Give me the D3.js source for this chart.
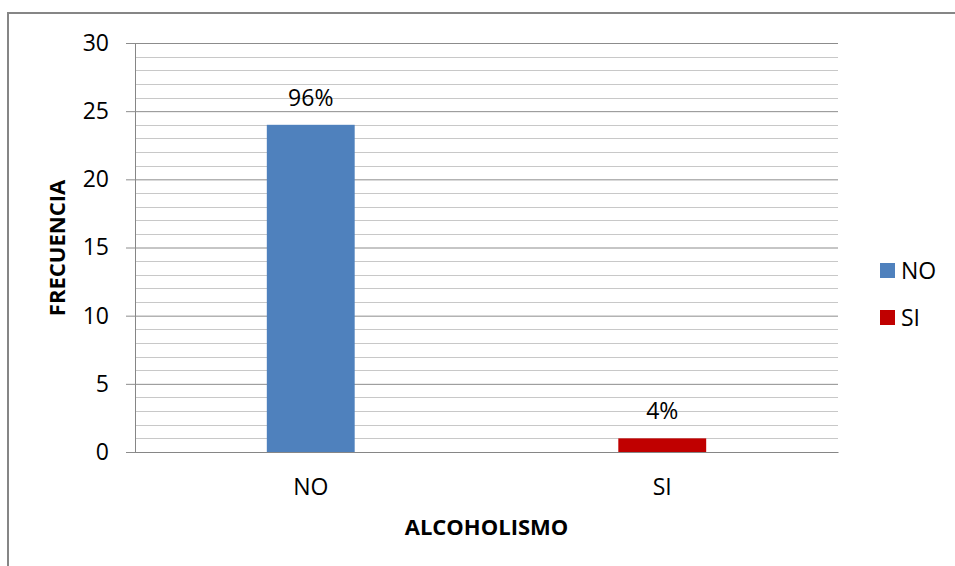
<!DOCTYPE html>
<html><head><meta charset="utf-8">
<script src="https://cdn.jsdelivr.net/npm/d3@7"></script>
<style>html,body{margin:0;padding:0;background:#fff;}svg{display:block;}</style>
</head><body>
<script>
const categories = ["NO", "SI"];
const values = [24, 1];
const labels = ["96%", "4%"];
const colors = ["#4F81BD", "#C00000"];
const yTicks = [0, 5, 10, 15, 20, 25, 30];
const minorTicks = d3.range(0, 31, 1);
const xTitle = "ALCOHOLISMO";
const yTitle = "FRECUENCIA";

(function () {
const W = 955, H = 566;
const svg = d3.select("body").append("svg").attr("width", W).attr("height", H);
const font = "'Open Sans', sans-serif";

// outer border
svg.append("rect").attr("x", 8).attr("y", 13).attr("width", W).attr("height", H)
  .attr("fill", "none").attr("stroke", "#868686").attr("stroke-width", 2);

const pl = 135, pr = 838, pt = 43, pb = 452;
const x = d3.scaleBand().domain(categories).range([pl, pr]).padding(0);
const y = d3.scaleLinear().domain([0, 30]).range([pb, pt]);

// minor gridlines
svg.append("g").selectAll("line").data(minorTicks.filter(d => d % 5 !== 0)).join("line")
  .attr("x1", pl).attr("x2", pr)
  .attr("y1", d => Math.round(y(d)) + 0.5).attr("y2", d => Math.round(y(d)) + 0.5)
  .attr("stroke", "#c8c8c8").attr("stroke-width", 1);

// y axis with major gridlines
const yAxis = d3.axisLeft(y).tickValues(yTicks).tickSize(-(pr - pl)).tickSizeOuter(0).tickPadding(26);
const gy = svg.append("g").attr("transform", `translate(${pl},0)`).call(yAxis);
gy.select(".domain").attr("stroke", "#868686");
gy.selectAll(".tick line").attr("stroke", "#8c8c8c");
gy.selectAll(".tick").append("line").attr("x1", -9).attr("x2", 0).attr("stroke", "#8c8c8c");
gy.selectAll(".tick text").attr("font-family", font).attr("font-size", 23).attr("fill", "#000");

// x axis
const xAxis = d3.axisBottom(x).tickSize(0).tickPadding(27);
const gx = svg.append("g").attr("transform", `translate(0,${pb})`).call(xAxis);
gx.select(".domain").attr("stroke", "#868686");
gx.selectAll(".tick text").attr("font-family", font).attr("font-size", 23).attr("fill", "#000");

// bars
const bw = x.bandwidth() * 0.25;
svg.append("g").selectAll("rect").data(categories).join("rect")
  .attr("x", (d) => x(d) + x.bandwidth() / 2 - bw / 2)
  .attr("width", bw)
  .attr("y", (d, i) => y(values[i]))
  .attr("height", (d, i) => pb - y(values[i]))
  .attr("fill", (d, i) => colors[i]);

// data labels
svg.append("g").selectAll("text").data(categories).join("text")
  .attr("x", d => x(d) + x.bandwidth() / 2)
  .attr("y", (d, i) => y(values[i]) - 19)
  .attr("text-anchor", "middle")
  .attr("font-family", font).attr("font-size", 23).attr("fill", "#000")
  .text((d, i) => labels[i]);

// axis titles
svg.append("text").attr("x", (pl + pr) / 2).attr("y", 535)
  .attr("text-anchor", "middle").attr("font-family", font).attr("font-size", 22)
  .attr("font-weight", "bold").attr("fill", "#000").text(xTitle);
svg.append("text").attr("transform", `translate(65,248) rotate(-90)`)
  .attr("text-anchor", "middle").attr("font-family", font).attr("font-size", 22)
  .attr("font-weight", "bold").attr("fill", "#000").text(yTitle);

// legend
const lg = svg.append("g").selectAll("g").data(categories).join("g")
  .attr("transform", (d, i) => `translate(880,${263 + i * 47})`);
lg.append("rect").attr("width", 15).attr("height", 15).attr("fill", (d, i) => colors[i]);
lg.append("text").attr("x", 21).attr("y", 7.5).attr("dy", "0.35em")
  .attr("font-family", font).attr("font-size", 23).attr("fill", "#000").text(d => d);
})();
</script>
</body></html>
